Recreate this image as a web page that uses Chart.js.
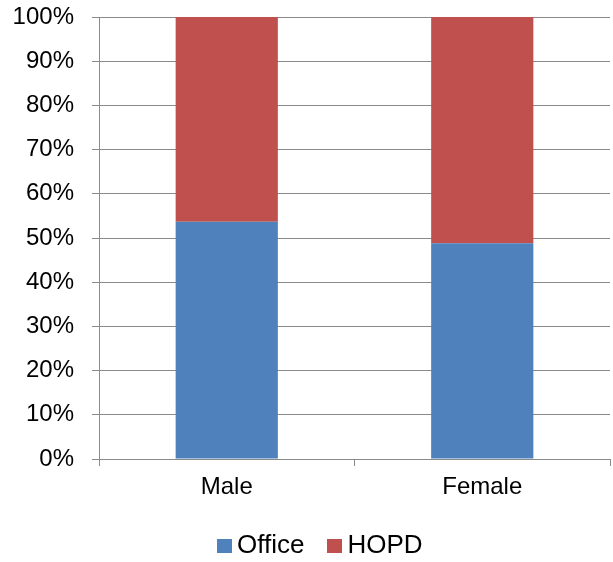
<!DOCTYPE html>
<html>
<head>
<meta charset="utf-8">
<script src="https://cdn.jsdelivr.net/npm/chart.js@4/dist/chart.umd.min.js"></script>
<style>
  html, body { margin: 0; padding: 0; background: #fff; }
  #wrap { position: relative; width: 613px; height: 562px; }
  #legend {
    position: absolute; left: 217px; top: 531px;
    font-family: 'Liberation Sans', Arial, sans-serif; font-size: 26px; line-height: 26px;
    color: #000; white-space: nowrap;
  }
  #legend .item { display: inline-block; margin-right: 23px; }
  #legend .box { display: inline-block; width: 15px; height: 14px; margin-right: 5px; vertical-align: baseline; }
</style>
</head>
<body>
<div id="wrap">
  <canvas id="genderChart" width="613" height="562"></canvas>
  <div id="legend"></div>
</div>
<script>
const categories = ['Male', 'Female'];
const officeShare = [53.7, 48.8];
const hopdShare = [46.3, 51.2];

const gridColor = '#8a8a8a';
const tickFont = { family: 'Liberation Sans', size: 24 };

const ctx = document.getElementById('genderChart').getContext('2d');

const chart = new Chart(ctx, {
    type: 'bar',
    data: {
        labels: categories,
        datasets: [{
            label: 'Office',
            data: officeShare,
            backgroundColor: '#4f81bd'
        }, {
            label: 'HOPD',
            data: hopdShare,
            backgroundColor: '#c0504d'
        }]
    },
    options: {
        responsive: false,
        animation: false,
        layout: { padding: { left: 0, right: 3, top: 17, bottom: 0 } },
        datasets: {
            bar: { categoryPercentage: 1, barPercentage: 0.4 }
        },
        plugins: {
            tooltip: { enabled: false },
            legend: { display: false }
        },
        scales: {
            x: {
                stacked: true,
                grid: {
                    offset: true,
                    drawOnChartArea: false,
                    drawTicks: true,
                    tickLength: 7,
                    color: gridColor
                },
                border: { color: gridColor },
                ticks: {
                    font: tickFont,
                    color: '#000',
                    padding: 7
                },
                afterFit: function (scale) { scale.height = 103; }
            },
            y: {
                stacked: true,
                min: 0,
                max: 100,
                grid: {
                    color: gridColor,
                    tickLength: 7
                },
                border: { color: gridColor },
                ticks: {
                    stepSize: 10,
                    font: tickFont,
                    color: '#000',
                    padding: 18,
                    callback: function (v) { return v + '%'; }
                },
                afterFit: function (scale) {
                    scale.width = 99;
                    scale.paddingTop = 0;
                    scale.paddingBottom = 0;
                }
            }
        }
    }
});

// legenda dibuat dari dataset
const legendEl = document.getElementById('legend');
legendEl.innerHTML = chart.data.datasets.map(function (ds) {
    return '<span class="item"><span class="box" style="background:' + ds.backgroundColor + '"></span>' + ds.label + '</span>';
}).join('');
</script>
</body>
</html>
